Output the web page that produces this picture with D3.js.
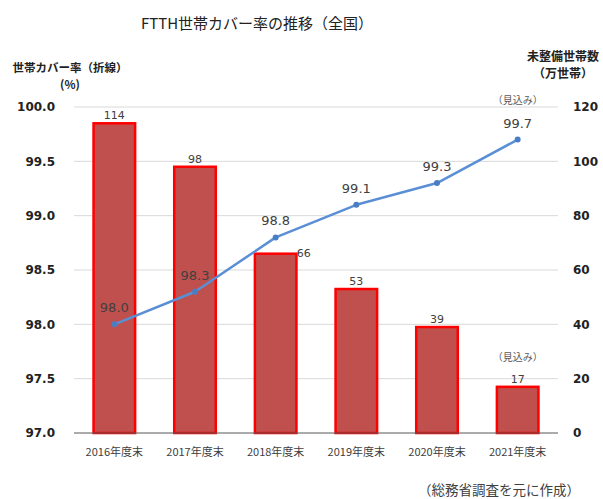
<!DOCTYPE html>
<html>
<head>
<meta charset="utf-8">
<script src="https://cdn.jsdelivr.net/npm/d3@7"></script>
<style>
  html, body { margin: 0; padding: 0; background: #fff; }
  svg { display: block; }
</style>
</head>
<body>
<div id="chart"></div>
<script>
// data
const years = ['2016年度末', '2017年度末', '2018年度末', '2019年度末', '2020年度末', '2021年度末'];
const households = [114, 98, 66, 53, 39, 17];       // 未整備世帯数（万世帯）
const coverRate = [98.0, 98.3, 98.8, 99.1, 99.3, 99.7]; // 世帯カバー率（%）
const leftTicks = [97.0, 97.5, 98.0, 98.5, 99.0, 99.5, 100.0];
const rightTicks = [0, 20, 40, 60, 80, 100, 120];

const width = 603, height = 499;
const margin = { left: 74, right: 45, top: 107, bottom: 66 };
const plotRight = width - margin.right;
const plotBottom = height - margin.bottom;

const svg = d3.select('#chart').append('svg')
    .attr('width', width)
    .attr('height', height);

const x = d3.scaleBand()
    .domain(years)
    .range([margin.left, plotRight])
    .paddingInner(0.455)
    .paddingOuter(0.2275);

const yL = d3.scaleLinear().domain([97, 100]).range([plotBottom, margin.top]);
const yR = d3.scaleLinear().domain([0, 120]).range([plotBottom, margin.top]);

const jp = '"Noto Sans CJK JP", "Noto Sans", sans-serif';
const num = '"DejaVu Sans", Verdana, sans-serif';

// title
svg.append('text')
    .attr('x', 257).attr('y', 29)
    .attr('text-anchor', 'middle')
    .style('font-family', jp).style('font-size', '15px').style('fill', '#222')
    .text('FTTH世帯カバー率の推移（全国）');

// axis titles
svg.append('text')
    .attr('x', 70).attr('y', 72)
    .attr('text-anchor', 'middle')
    .style('font-family', jp).style('font-size', '11.5px').style('font-weight', 'bold').style('fill', '#222')
    .text('世帯カバー率（折線）');
svg.append('text')
    .attr('x', 70).attr('y', 89)
    .attr('text-anchor', 'middle')
    .style('font-family', jp).style('font-size', '11.5px').style('font-weight', 'bold').style('fill', '#222')
    .text('(%)');
svg.append('text')
    .attr('x', 563).attr('y', 61)
    .attr('text-anchor', 'middle')
    .style('font-family', jp).style('font-size', '12px').style('font-weight', 'bold').style('fill', '#222')
    .text('未整備世帯数');
svg.append('text')
    .attr('x', 563).attr('y', 78)
    .attr('text-anchor', 'middle')
    .style('font-family', jp).style('font-size', '12px').style('font-weight', 'bold').style('fill', '#222')
    .text('（万世帯）');

// gridlines
svg.append('g')
    .selectAll('line')
    .data(leftTicks.filter(d => d > 97))
    .join('line')
        .attr('x1', margin.left).attr('x2', plotRight)
        .attr('y1', d => yL(d)).attr('y2', d => yL(d))
        .attr('stroke', '#d9d9d9').attr('stroke-width', 1);

// left axis labels
svg.append('g')
    .selectAll('text')
    .data(leftTicks)
    .join('text')
        .attr('x', 55).attr('y', d => yL(d))
        .attr('dy', '0.36em')
        .attr('text-anchor', 'end')
        .style('font-family', num).style('font-size', '12px').style('font-weight', 'bold').style('fill', '#222')
        .text(d => d.toFixed(1));

// right axis labels
svg.append('g')
    .selectAll('text')
    .data(rightTicks)
    .join('text')
        .attr('x', 573).attr('y', d => yR(d))
        .attr('dy', '0.36em')
        .attr('text-anchor', 'start')
        .style('font-family', num).style('font-size', '12px').style('font-weight', 'bold').style('fill', '#222')
        .text(d => d);

// bars
svg.append('g')
    .selectAll('rect')
    .data(households)
    .join('rect')
        .attr('x', (d, i) => x(years[i]) + 1.2)
        .attr('y', d => yR(d))
        .attr('width', x.bandwidth() - 2.4)
        .attr('height', d => yR(0) - yR(d))
        .attr('fill', '#C0504D')
        .attr('stroke', '#FF0000')
        .attr('stroke-width', 2.5);

// baseline
svg.append('line')
    .attr('x1', margin.left).attr('x2', plotRight)
    .attr('y1', plotBottom).attr('y2', plotBottom)
    .attr('stroke', '#595959').attr('stroke-width', 1.2);

// bar value labels (66 is nudged right in the original)
svg.append('g')
    .selectAll('text')
    .data(households)
    .join('text')
        .attr('x', (d, i) => x(years[i]) + x.bandwidth() / 2 + (d === 66 ? 28 : 0))
        .attr('y', d => yR(d) - 4 + (d === 66 ? 7 : 0))
        .attr('text-anchor', 'middle')
        .style('font-family', num).style('font-size', '11px').style('fill', '#404040')
        .text(d => d);

// line
const pts = coverRate.map((v, i) => [x(years[i]) + x.bandwidth() / 2, yL(v)]);
svg.append('path')
    .datum(pts)
    .attr('d', d3.line())
    .attr('fill', 'none')
    .attr('stroke', '#5A8FD5')
    .attr('stroke-width', 2.5)
    .attr('stroke-linejoin', 'round');

svg.append('g')
    .selectAll('circle')
    .data(pts)
    .join('circle')
        .attr('cx', d => d[0]).attr('cy', d => d[1])
        .attr('r', 3)
        .attr('fill', '#4A7EC4');

svg.append('g')
    .selectAll('text')
    .data(coverRate)
    .join('text')
        .attr('x', (d, i) => x(years[i]) + x.bandwidth() / 2)
        .attr('y', d => yL(d) - 12)
        .attr('text-anchor', 'middle')
        .style('font-family', num).style('font-size', '13px').style('fill', '#404040')
        .text(d => d.toFixed(1));

// 見込み notes
const last = years[years.length - 1];
const lastX = x(last) + x.bandwidth() / 2;
svg.append('text')
    .attr('x', lastX).attr('y', yL(coverRate[5]) - 36)
    .attr('text-anchor', 'middle')
    .style('font-family', jp).style('font-size', '10px').style('fill', '#595959')
    .text('（見込み）');
svg.append('text')
    .attr('x', lastX).attr('y', yR(households[5]) - 26)
    .attr('text-anchor', 'middle')
    .style('font-family', jp).style('font-size', '10px').style('fill', '#595959')
    .text('（見込み）');

// x labels
svg.append('g')
    .selectAll('text')
    .data(years)
    .join('text')
        .attr('x', d => x(d) + x.bandwidth() / 2)
        .attr('y', plotBottom + 23)
        .attr('text-anchor', 'middle')
        .style('font-family', jp).style('font-size', '11px').style('fill', '#404040')
        .text(d => d);

// source
svg.append('text')
    .attr('x', 580).attr('y', 495)
    .attr('text-anchor', 'end')
    .style('font-family', jp).style('font-size', '13.5px').style('fill', '#404040')
    .text('（総務省調査を元に作成）');
</script>
</body>
</html>
